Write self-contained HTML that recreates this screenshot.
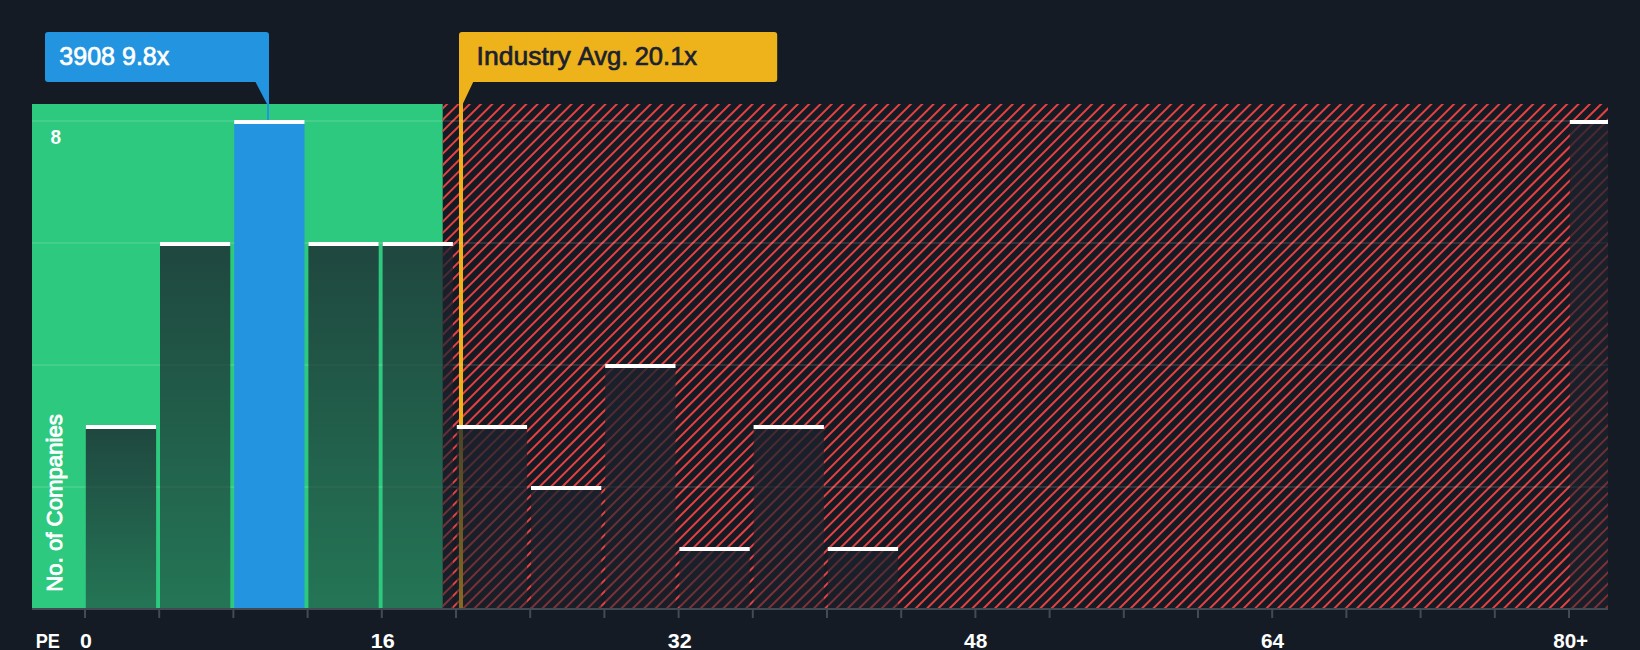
<!DOCTYPE html>
<html lang="en"><head><meta charset="utf-8"><title>PE Histogram</title>
<style>html,body{margin:0;padding:0;background:#151b24;overflow:hidden}svg{display:block}text{font-family:"Liberation Sans",sans-serif;}</style></head><body>
<svg width="1640" height="650" viewBox="0 0 1640 650">
<defs>
<linearGradient id="bar" x1="0" y1="0" x2="0" y2="1"><stop offset="0" stop-color="#1b222d" stop-opacity="0.78"/><stop offset="1" stop-color="#1b222d" stop-opacity="0.5"/></linearGradient>
<clipPath id="hclip"><rect x="442.7" y="104" width="1165.3" height="504"/></clipPath>
<clipPath id="plot"><path d="M32 608V104H1608V608Z"/></clipPath>
</defs>
<rect width="1640" height="650" fill="#151b24"/>
<g clip-path="url(#plot)">
<rect x="32" y="104" width="410.7" height="504" fill="#2dc97e"/>
<g clip-path="url(#hclip)"><path d="M-72.16 612L439.84 100M-60.84 612L451.16 100M-49.53 612L462.47 100M-38.21 612L473.79 100M-26.90 612L485.10 100M-15.59 612L496.41 100M-4.27 612L507.73 100M7.04 612L519.04 100M18.35 612L530.35 100M29.67 612L541.67 100M40.98 612L552.98 100M52.30 612L564.30 100M63.61 612L575.61 100M74.92 612L586.92 100M86.24 612L598.24 100M97.55 612L609.55 100M108.86 612L620.86 100M120.18 612L632.18 100M131.49 612L643.49 100M142.80 612L654.80 100M154.12 612L666.12 100M165.43 612L677.43 100M176.75 612L688.75 100M188.06 612L700.06 100M199.37 612L711.37 100M210.69 612L722.69 100M222.00 612L734.00 100M233.31 612L745.31 100M244.63 612L756.63 100M255.94 612L767.94 100M267.26 612L779.26 100M278.57 612L790.57 100M289.88 612L801.88 100M301.20 612L813.20 100M312.51 612L824.51 100M323.82 612L835.82 100M335.14 612L847.14 100M346.45 612L858.45 100M357.77 612L869.77 100M369.08 612L881.08 100M380.39 612L892.39 100M391.71 612L903.71 100M403.02 612L915.02 100M414.33 612L926.33 100M425.65 612L937.65 100M436.96 612L948.96 100M448.27 612L960.27 100M459.59 612L971.59 100M470.90 612L982.90 100M482.22 612L994.22 100M493.53 612L1005.53 100M504.84 612L1016.84 100M516.16 612L1028.16 100M527.47 612L1039.47 100M538.78 612L1050.78 100M550.10 612L1062.10 100M561.41 612L1073.41 100M572.73 612L1084.73 100M584.04 612L1096.04 100M595.35 612L1107.35 100M606.67 612L1118.67 100M617.98 612L1129.98 100M629.29 612L1141.29 100M640.61 612L1152.61 100M651.92 612L1163.92 100M663.24 612L1175.24 100M674.55 612L1186.55 100M685.86 612L1197.86 100M697.18 612L1209.18 100M708.49 612L1220.49 100M719.80 612L1231.80 100M731.12 612L1243.12 100M742.43 612L1254.43 100M753.75 612L1265.75 100M765.06 612L1277.06 100M776.37 612L1288.37 100M787.69 612L1299.69 100M799.00 612L1311.00 100M810.31 612L1322.31 100M821.63 612L1333.63 100M832.94 612L1344.94 100M844.25 612L1356.25 100M855.57 612L1367.57 100M866.88 612L1378.88 100M878.20 612L1390.20 100M889.51 612L1401.51 100M900.82 612L1412.82 100M912.14 612L1424.14 100M923.45 612L1435.45 100M934.76 612L1446.76 100M946.08 612L1458.08 100M957.39 612L1469.39 100M968.71 612L1480.71 100M980.02 612L1492.02 100M991.33 612L1503.33 100M1002.65 612L1514.65 100M1013.96 612L1525.96 100M1025.27 612L1537.27 100M1036.59 612L1548.59 100M1047.90 612L1559.90 100M1059.22 612L1571.22 100M1070.53 612L1582.53 100M1081.84 612L1593.84 100M1093.16 612L1605.16 100M1104.47 612L1616.47 100M1115.78 612L1627.78 100M1127.10 612L1639.10 100M1138.41 612L1650.41 100M1149.72 612L1661.72 100M1161.04 612L1673.04 100M1172.35 612L1684.35 100M1183.67 612L1695.67 100M1194.98 612L1706.98 100M1206.29 612L1718.29 100M1217.61 612L1729.61 100M1228.92 612L1740.92 100M1240.23 612L1752.23 100M1251.55 612L1763.55 100M1262.86 612L1774.86 100M1274.18 612L1786.18 100M1285.49 612L1797.49 100M1296.80 612L1808.80 100M1308.12 612L1820.12 100M1319.43 612L1831.43 100M1330.74 612L1842.74 100M1342.06 612L1854.06 100M1353.37 612L1865.37 100M1364.69 612L1876.69 100M1376.00 612L1888.00 100M1387.31 612L1899.31 100M1398.63 612L1910.63 100M1409.94 612L1921.94 100M1421.25 612L1933.25 100M1432.57 612L1944.57 100M1443.88 612L1955.88 100M1455.19 612L1967.19 100M1466.51 612L1978.51 100M1477.82 612L1989.82 100M1489.14 612L2001.14 100M1500.45 612L2012.45 100M1511.76 612L2023.76 100M1523.08 612L2035.08 100M1534.39 612L2046.39 100M1545.70 612L2057.70 100M1557.02 612L2069.02 100M1568.33 612L2080.33 100M1579.65 612L2091.65 100M1590.96 612L2102.96 100M1602.27 612L2114.27 100" stroke="#e64141" stroke-width="2" fill="none"/></g>
<rect x="459" y="104" width="4" height="504" fill="#eeb21a"/>
<rect x="32" y="486.0" width="1576" height="2" fill="#fff" fill-opacity="0.11"/>
<rect x="32" y="364.0" width="1576" height="2" fill="#fff" fill-opacity="0.11"/>
<rect x="32" y="242.0" width="1576" height="2" fill="#fff" fill-opacity="0.11"/>
<rect x="32" y="120.0" width="1576" height="2" fill="#fff" fill-opacity="0.11"/>
<rect x="85.80" y="425.0" width="70.30" height="183.0" fill="url(#bar)"/>
<rect x="85.80" y="425.0" width="70.30" height="4" fill="#fff"/>
<rect x="160.00" y="242.0" width="70.30" height="366.0" fill="url(#bar)"/>
<rect x="160.00" y="242.0" width="70.30" height="4" fill="#fff"/>
<rect x="234.20" y="120.0" width="70.30" height="488.0" fill="#2394df"/>
<rect x="234.20" y="120.0" width="70.30" height="4" fill="#fff"/>
<rect x="308.40" y="242.0" width="70.30" height="366.0" fill="url(#bar)"/>
<rect x="308.40" y="242.0" width="70.30" height="4" fill="#fff"/>
<rect x="382.60" y="242.0" width="70.30" height="366.0" fill="url(#bar)"/>
<rect x="382.60" y="242.0" width="70.30" height="4" fill="#fff"/>
<rect x="456.80" y="425.0" width="70.30" height="183.0" fill="url(#bar)"/>
<rect x="456.80" y="425.0" width="70.30" height="4" fill="#fff"/>
<rect x="531.00" y="486.0" width="70.30" height="122.0" fill="url(#bar)"/>
<rect x="531.00" y="486.0" width="70.30" height="4" fill="#fff"/>
<rect x="605.20" y="364.0" width="70.30" height="244.0" fill="url(#bar)"/>
<rect x="605.20" y="364.0" width="70.30" height="4" fill="#fff"/>
<rect x="679.40" y="547.0" width="70.30" height="61.0" fill="url(#bar)"/>
<rect x="679.40" y="547.0" width="70.30" height="4" fill="#fff"/>
<rect x="753.60" y="425.0" width="70.30" height="183.0" fill="url(#bar)"/>
<rect x="753.60" y="425.0" width="70.30" height="4" fill="#fff"/>
<rect x="827.80" y="547.0" width="70.30" height="61.0" fill="url(#bar)"/>
<rect x="827.80" y="547.0" width="70.30" height="4" fill="#fff"/>
<rect x="1569.80" y="120.0" width="70.30" height="488.0" fill="url(#bar)"/>
<rect x="1569.80" y="120.0" width="70.30" height="4" fill="#fff"/>
</g>
<rect x="32" y="608" width="1576" height="2" fill="#444952"/>
<rect x="84.00" y="608" width="2" height="10" fill="#444952"/>
<rect x="158.20" y="608" width="2" height="10" fill="#444952"/>
<rect x="232.40" y="608" width="2" height="10" fill="#444952"/>
<rect x="306.60" y="608" width="2" height="10" fill="#444952"/>
<rect x="380.80" y="608" width="2" height="10" fill="#444952"/>
<rect x="455.00" y="608" width="2" height="10" fill="#444952"/>
<rect x="529.20" y="608" width="2" height="10" fill="#444952"/>
<rect x="603.40" y="608" width="2" height="10" fill="#444952"/>
<rect x="677.60" y="608" width="2" height="10" fill="#444952"/>
<rect x="751.80" y="608" width="2" height="10" fill="#444952"/>
<rect x="826.00" y="608" width="2" height="10" fill="#444952"/>
<rect x="900.20" y="608" width="2" height="10" fill="#444952"/>
<rect x="974.40" y="608" width="2" height="10" fill="#444952"/>
<rect x="1048.60" y="608" width="2" height="10" fill="#444952"/>
<rect x="1122.80" y="608" width="2" height="10" fill="#444952"/>
<rect x="1197.00" y="608" width="2" height="10" fill="#444952"/>
<rect x="1271.20" y="608" width="2" height="10" fill="#444952"/>
<rect x="1345.40" y="608" width="2" height="10" fill="#444952"/>
<rect x="1419.60" y="608" width="2" height="10" fill="#444952"/>
<rect x="1493.80" y="608" width="2" height="10" fill="#444952"/>
<rect x="1568.00" y="608" width="2" height="10" fill="#444952"/>
<path d="M48 32H266a3 3 0 0 1 3 3V120H267V104L255.5 82H48a3 3 0 0 1-3-3V35a3 3 0 0 1 3-3Z" fill="#2394df"/>
<path d="M462 32H774.200a3 3 0 0 1 3 3V79a3 3 0 0 1-3 3H473.2L463 103.500V104H459V35a3 3 0 0 1 3-3Z" fill="#eeb21a"/>
<text x="59.33" y="65.2" font-size="26.4" fill="#fff" stroke="#fff" stroke-width="0.7" textLength="109.98" lengthAdjust="spacingAndGlyphs">3908 9.8x</text>
<text y="65.3" font-size="26.4" fill="#1a2130" stroke="#1a2130" stroke-width="0.7"><tspan x="476.59" textLength="94.23" lengthAdjust="spacingAndGlyphs">Industry</tspan> <tspan x="577.68" textLength="50.75" lengthAdjust="spacingAndGlyphs">Avg.</tspan> <tspan x="634.63" textLength="62.49" lengthAdjust="spacingAndGlyphs">20.1x</tspan></text>
<text x="50.38" y="143.8" font-size="20.2" font-weight="bold" fill="#fff" textLength="10.58" lengthAdjust="spacingAndGlyphs">8</text>
<text x="35.69" y="648" font-size="20.4" font-weight="bold" fill="#fff" textLength="24.24" lengthAdjust="spacingAndGlyphs">PE</text>
<text x="79.91" y="648" font-size="20.2" font-weight="bold" fill="#fff" textLength="11.87" lengthAdjust="spacingAndGlyphs">0</text>
<text x="370.86" y="648" font-size="20.2" font-weight="bold" fill="#fff" textLength="24.00" lengthAdjust="spacingAndGlyphs">16</text>
<text x="667.87" y="648" font-size="20.2" font-weight="bold" fill="#fff" textLength="24.00" lengthAdjust="spacingAndGlyphs">32</text>
<text x="964.04" y="648" font-size="20.2" font-weight="bold" fill="#fff" textLength="23.24" lengthAdjust="spacingAndGlyphs">48</text>
<text x="1261.03" y="648" font-size="20.2" font-weight="bold" fill="#fff" textLength="23.14" lengthAdjust="spacingAndGlyphs">64</text>
<text x="1553.19" y="648" font-size="20.2" font-weight="bold" fill="#fff" textLength="34.98" lengthAdjust="spacingAndGlyphs">80+</text>
<text transform="translate(61.8,591.73) rotate(-90)" font-size="22.6" fill="#fff" stroke="#fff" stroke-width="0.9" textLength="177.56" lengthAdjust="spacingAndGlyphs">No. of Companies</text>
</svg></body></html>
